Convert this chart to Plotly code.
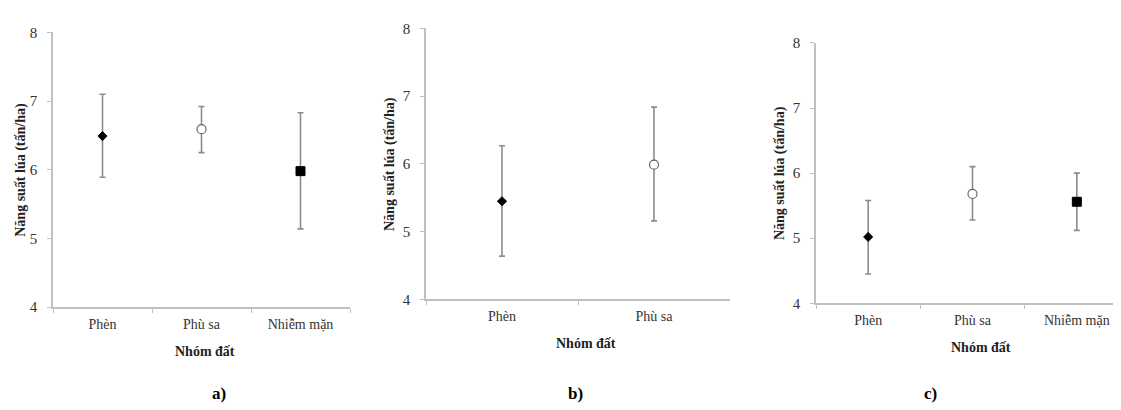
import plotly.graph_objects as go

# Panel a
cats_a = ["Phèn", "Phù sa", "Nhiễm mặn"]
mean_a = [6.49, 6.59, 5.98]
upper_a = [7.10, 6.92, 6.83]
lower_a = [5.89, 6.25, 5.14]
# Panel b
cats_b = ["Phèn", "Phù sa"]
mean_b = [5.45, 5.99]
upper_b = [6.27, 6.84]
lower_b = [4.64, 5.16]
# Panel c
cats_c = ["Phèn", "Phù sa", "Nhiễm mặn"]
mean_c = [5.02, 5.68, 5.56]
upper_c = [5.58, 6.10, 6.00]
lower_c = [4.45, 5.28, 5.12]

y_ticks = [4, 5, 6, 7, 8]
panel_labels = ["a)", "b)", "c)"]
x_title = "Nhóm đất"
y_title = "Năng suất lúa (tấn/ha)"

marker_styles = {
    "Phèn": dict(symbol="diamond", size=7, color="black", line=dict(color="black", width=1)),
    "Phù sa": dict(symbol="circle", size=9, color="white", line=dict(color="#666666", width=1.2)),
    "Nhiễm mặn": dict(symbol="square", size=9, color="black", line=dict(color="black", width=1)),
}

FONT = "Liberation Serif, Times New Roman, serif"
W, H = 1121, 410
fig = go.Figure()

panels = [
    (cats_a, mean_a, upper_a, lower_a, (45, 342), (17, 303), 13, 197),
    (cats_b, mean_b, upper_b, lower_b, (418, 722), (13, 295), 382, 578),
    (cats_c, mean_c, upper_c, lower_c, (808, 1121), (28, 299), 772, 973),
]

for i, (cats, mean, up, lo, (x0, x1), (yt, yb), ytx, xtx) in enumerate(panels):
    n = i + 1
    xa = "x" if n == 1 else f"x{n}"
    ya = "y" if n == 1 else f"y{n}"
    for c, m, u, l in zip(cats, mean, up, lo):
        fig.add_trace(go.Scatter(
            x=[c], y=[m], mode="markers", xaxis=xa, yaxis=ya,
            marker=marker_styles[c], showlegend=False,
            error_y=dict(type="data", symmetric=False, array=[u - m], arrayminus=[m - l],
                         color="#8c8c8c", thickness=1.6, width=3),
        ))
    xd = [x0 / W, x1 / W]
    yd = [1 - yb / H, 1 - yt / H]
    axkey = "xaxis" if n == 1 else f"xaxis{n}"
    aykey = "yaxis" if n == 1 else f"yaxis{n}"
    fig.update_layout(**{
        axkey: dict(domain=xd, anchor=ya, type="category", categoryorder="array", categoryarray=cats,
                    range=[-0.5, len(cats) - 0.5],
                    showline=True, linecolor="#c0c0c0", linewidth=1.5, showgrid=False, zeroline=False,
                    ticks="outside", tickson="boundaries", ticklen=4, tickcolor="#c0c0c0",
                    ticklabelstandoff=3,
                    tickfont=dict(family=FONT, size=14, color="#333333"), fixedrange=True),
        aykey: dict(domain=yd, anchor=xa, range=[4, 8], tickvals=y_ticks,
                    showline=True, linecolor="#c0c0c0", linewidth=1.5, showgrid=False, zeroline=False,
                    ticks="outside", ticklen=4, tickcolor="#c0c0c0",
                    ticklabelstandoff=7,
                    tickfont=dict(family=FONT, size=15, color="#333333"), fixedrange=True),
    })
    fig.add_annotation(x=xtx / W, y=1 - (yb + 46) / H, xref="paper", yref="paper",
                       xanchor="center", yanchor="middle",
                       text=f"<b>{x_title}</b>", showarrow=False,
                       font=dict(family=FONT, size=14, color="#222222"))
    fig.add_annotation(x=ytx / W, y=1 - (yt + yb) / 2 / H, xref="paper", yref="paper",
                       xanchor="center", yanchor="middle",
                       text=f"<b>{y_title}</b>", showarrow=False, textangle=-90,
                       font=dict(family=FONT, size=14, color="#222222"))

for lab, px in zip(panel_labels, [211, 567, 922]):
    fig.add_annotation(x=px / W, y=1 - 393 / H, xref="paper", yref="paper",
                       xanchor="center", yanchor="middle",
                       text=f"<b>{lab}</b>", showarrow=False,
                       font=dict(family=FONT, size=17, color="black"))

fig.update_layout(width=W, height=H, margin=dict(l=0, r=0, t=0, b=0),
                  font=dict(family=FONT),
                  paper_bgcolor="white", plot_bgcolor="white")
fig.write_html("out.html")
